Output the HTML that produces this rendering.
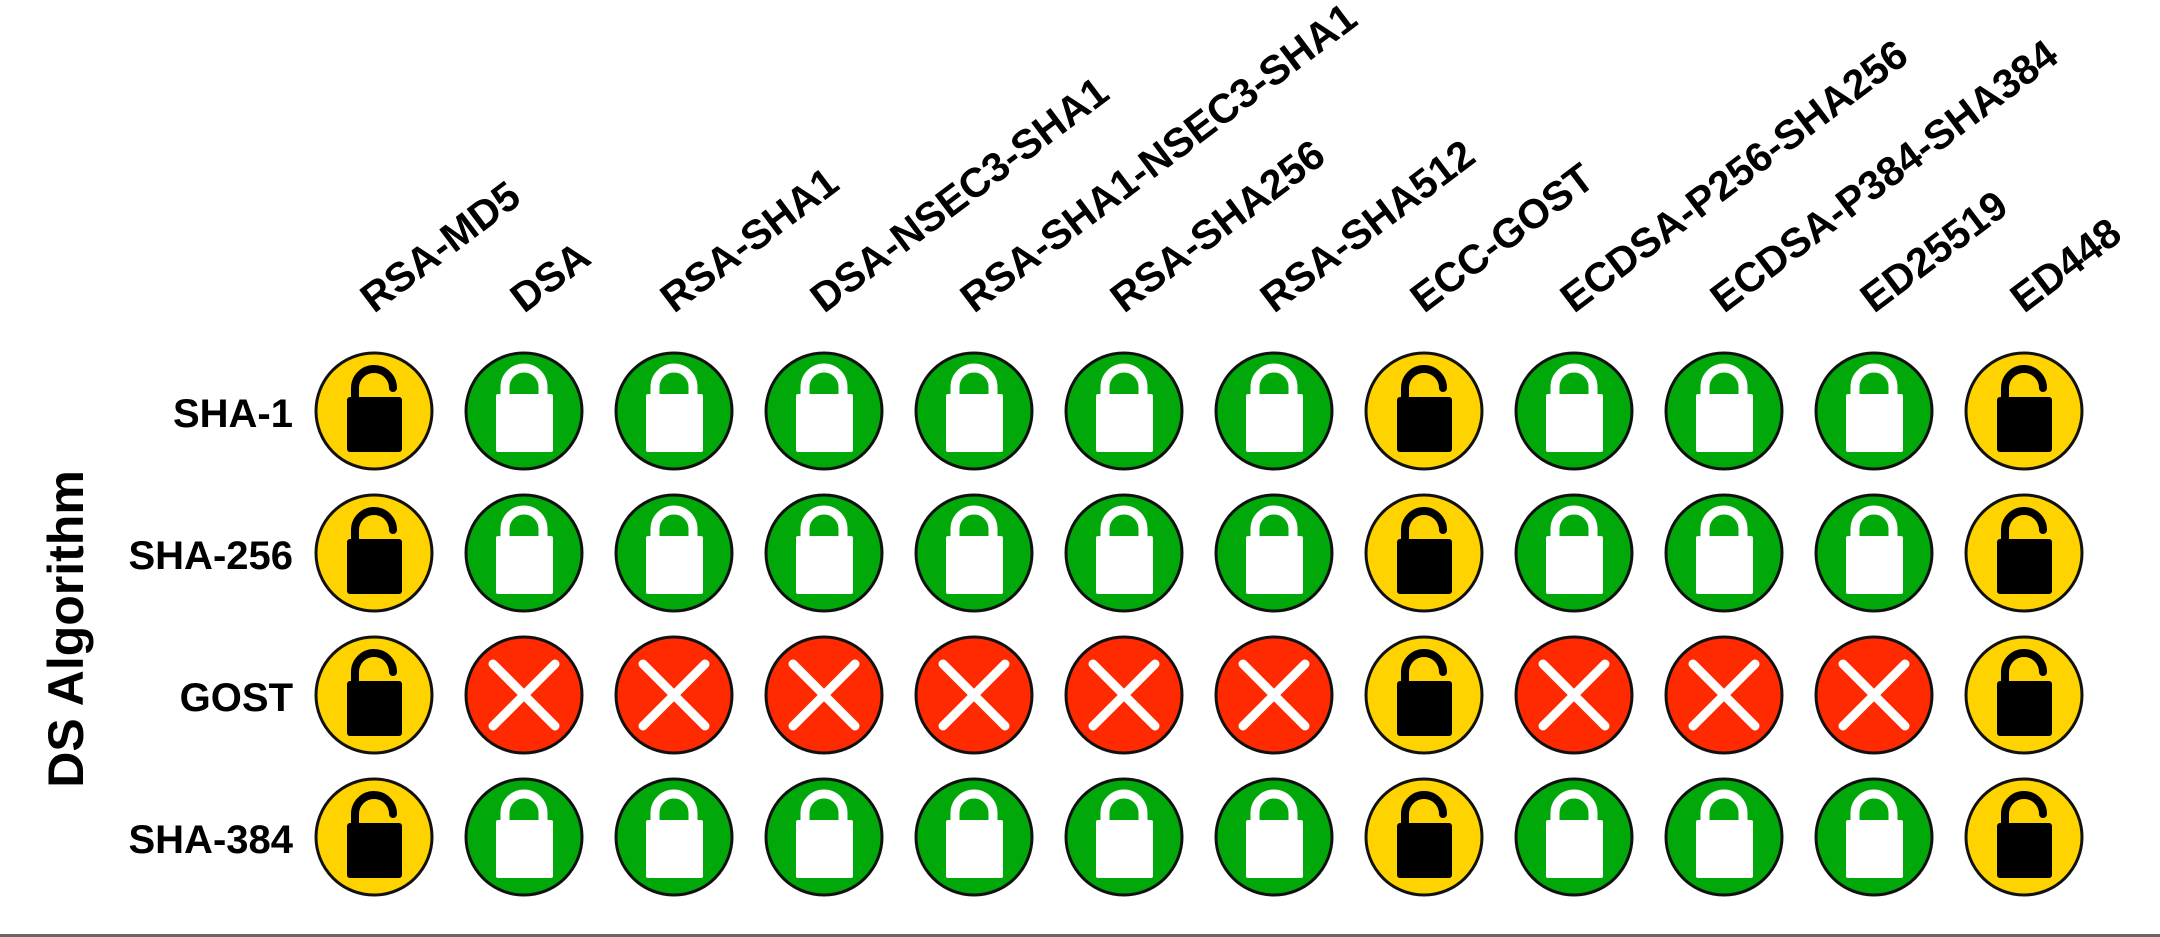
<!DOCTYPE html>
<html><head><meta charset="utf-8"><style>
html,body{margin:0;padding:0;background:#fff;}
svg{display:block;}
text{font-family:"Liberation Sans",Arial,sans-serif;font-weight:bold;fill:#000;}
</style></head><body>
<svg width="2160" height="937" viewBox="0 0 2160 937" xmlns="http://www.w3.org/2000/svg">
<defs>
<g id="Y">
<circle r="58" fill="#FFD300" stroke="#111" stroke-width="3"/>
<rect x="-27" y="-14" width="55" height="55" rx="3" fill="#000"/>
<path d="M-19,-12 L-19,-23 A19,19 0 0 1 19,-23" fill="none" stroke="#000" stroke-width="8" stroke-linecap="round"/>
</g>
<g id="G">
<circle r="58" fill="#00A80A" stroke="#111" stroke-width="3"/>
<rect x="-28" y="-17" width="57" height="58" rx="2" fill="#fff"/>
<path d="M-19,-14 L-19,-24 A19,19 0 0 1 19,-24 L19,-14" fill="none" stroke="#fff" stroke-width="9"/>
</g>
<g id="R">
<circle r="58" fill="#FF2A00" stroke="#111" stroke-width="3"/>
<path d="M-31,-31 L31,31 M31,-31 L-31,31" stroke="#fff" stroke-width="9" stroke-linecap="round"/>
</g>
</defs>

<text x="83" y="629" font-size="50" text-anchor="middle" transform="rotate(-90 83 629)">DS Algorithm</text>

<g font-size="40" text-anchor="end">
<text x="293" y="427">SHA-1</text>
<text x="293" y="569">SHA-256</text>
<text x="293" y="711">GOST</text>
<text x="293" y="853">SHA-384</text>
</g>

<g font-size="41">
<text transform="translate(374,314) rotate(-37)">RSA-MD5</text>
<text transform="translate(524,314) rotate(-37)">DSA</text>
<text transform="translate(674,314) rotate(-37)">RSA-SHA1</text>
<text transform="translate(824,314) rotate(-37)">DSA-NSEC3-SHA1</text>
<text transform="translate(974,314) rotate(-37)">RSA-SHA1-NSEC3-SHA1</text>
<text transform="translate(1124,314) rotate(-37)">RSA-SHA256</text>
<text transform="translate(1274,314) rotate(-37)">RSA-SHA512</text>
<text transform="translate(1424,314) rotate(-37)">ECC-GOST</text>
<text transform="translate(1574,314) rotate(-37)">ECDSA-P256-SHA256</text>
<text transform="translate(1724,314) rotate(-37)">ECDSA-P384-SHA384</text>
<text transform="translate(1874,314) rotate(-37)">ED25519</text>
<text transform="translate(2024,314) rotate(-37)">ED448</text>
</g>

<use href="#Y" x="374" y="411"/><use href="#G" x="524" y="411"/><use href="#G" x="674" y="411"/><use href="#G" x="824" y="411"/><use href="#G" x="974" y="411"/><use href="#G" x="1124" y="411"/><use href="#G" x="1274" y="411"/><use href="#Y" x="1424" y="411"/><use href="#G" x="1574" y="411"/><use href="#G" x="1724" y="411"/><use href="#G" x="1874" y="411"/><use href="#Y" x="2024" y="411"/>
<use href="#Y" x="374" y="553"/><use href="#G" x="524" y="553"/><use href="#G" x="674" y="553"/><use href="#G" x="824" y="553"/><use href="#G" x="974" y="553"/><use href="#G" x="1124" y="553"/><use href="#G" x="1274" y="553"/><use href="#Y" x="1424" y="553"/><use href="#G" x="1574" y="553"/><use href="#G" x="1724" y="553"/><use href="#G" x="1874" y="553"/><use href="#Y" x="2024" y="553"/>
<use href="#Y" x="374" y="695"/><use href="#R" x="524" y="695"/><use href="#R" x="674" y="695"/><use href="#R" x="824" y="695"/><use href="#R" x="974" y="695"/><use href="#R" x="1124" y="695"/><use href="#R" x="1274" y="695"/><use href="#Y" x="1424" y="695"/><use href="#R" x="1574" y="695"/><use href="#R" x="1724" y="695"/><use href="#R" x="1874" y="695"/><use href="#Y" x="2024" y="695"/>
<use href="#Y" x="374" y="837"/><use href="#G" x="524" y="837"/><use href="#G" x="674" y="837"/><use href="#G" x="824" y="837"/><use href="#G" x="974" y="837"/><use href="#G" x="1124" y="837"/><use href="#G" x="1274" y="837"/><use href="#Y" x="1424" y="837"/><use href="#G" x="1574" y="837"/><use href="#G" x="1724" y="837"/><use href="#G" x="1874" y="837"/><use href="#Y" x="2024" y="837"/>

<rect x="0" y="934" width="2160" height="3" fill="#666"/>
</svg>
</body></html>
